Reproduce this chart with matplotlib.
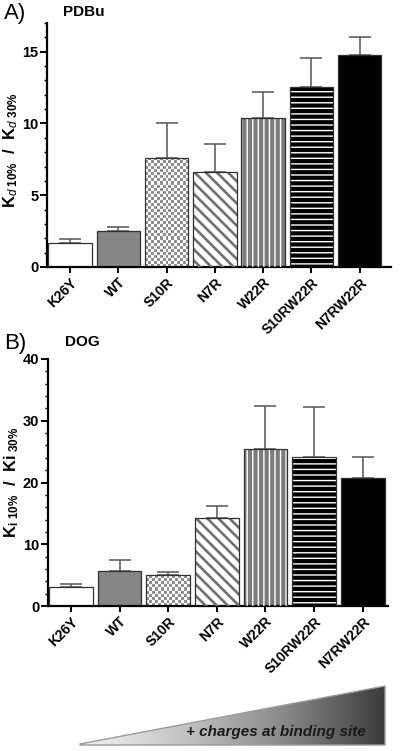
import matplotlib
matplotlib.use('Agg')
import matplotlib.pyplot as plt
import numpy as np
from matplotlib.patches import Polygon

plt.rcParams['font.family'] = ['Liberation Sans', 'DejaVu Sans']
plt.rcParams['mathtext.fontset'] = 'custom'
plt.rcParams['mathtext.rm'] = 'Liberation Sans:bold'
plt.rcParams['mathtext.it'] = 'Liberation Sans:italic'
plt.rcParams['mathtext.bf'] = 'Liberation Sans:bold'

# data
mutants = ['K26Y', 'WT', 'S10R', 'N7R', 'W22R', 'S10RW22R', 'N7RW22R']
pdbu_mean = [1.64, 2.52, 7.62, 6.62, 10.35, 12.55, 14.77]
pdbu_err = [0.28, 0.27, 2.43, 1.97, 1.83, 1.98, 1.28]
dog_mean = [3.13, 5.72, 4.97, 14.3, 25.37, 24.08, 20.73]
dog_err = [0.43, 1.73, 0.59, 1.95, 7.03, 8.22, 3.45]

# style of each bar: face, hatch, hatch colour, hatch width
styles = [
    ('white', None, None, 1.0),
    ('#868686', None, None, 1.0),
    ('white', 'checker', None, 1.0),
    ('white', '\\\\\\', '#707070', 1.9),
    ('#7c7c7c', '|||', 'white', 1.0),
    ('black', '---', 'white', 1.0),
    ('black', None, None, 1.0),
]

fig = plt.figure(figsize=(4, 7.51), dpi=100)


def draw_panel(ax, means, errs, ymax, minor, px_per_unit):
    x = np.arange(len(mutants))
    w = 0.9
    ax.errorbar(x, means, yerr=[np.zeros(len(errs)), errs], fmt='none',
                ecolor='#555555', elinewidth=1.1, capsize=8, capthick=1.1, zorder=1)
    for i, (face, hatch, hcol, hlw) in enumerate(styles):
        ax.bar(x[i], means[i], w, color=face, linewidth=0, zorder=2)
        if hatch == 'checker':
            ny = max(1, int(round(means[i] * px_per_unit / 3.0)))
            nx = 15
            cb = (np.add.outer(np.arange(ny), np.arange(nx)) % 2).astype(float)
            im = ax.imshow(cb, cmap='gray', vmin=-1.3, vmax=1, interpolation='nearest',
                           extent=(x[i] - w / 2, x[i] + w / 2, 0, means[i]),
                           aspect='auto', zorder=2.5, origin='lower')
            clip = ax.bar(x[i], means[i], w, fill=False, linewidth=0, zorder=2.4)[0]
            im.set_clip_path(clip)
        elif hatch:
            plt.rcParams['hatch.linewidth'] = hlw
            hb = ax.bar(x[i], means[i], w, fill=False, edgecolor=hcol, hatch=hatch,
                        linewidth=0, zorder=2.6)[0]
            if hasattr(hb, 'set_hatch_linewidth'):
                hb.set_hatch_linewidth(hlw)
        ax.bar(x[i], means[i], w, fill=False, edgecolor='#303030', linewidth=0.9, zorder=3)
    ax.set_ylim(0, ymax)
    ax.set_yticks(np.arange(0, ymax + 0.01, 10 if ymax > 20 else 5))
    ax.set_yticks(np.arange(0, ymax + 0.01, minor), minor=True)
    ax.set_xticks(x)
    ax.set_xticklabels(mutants, rotation=45, ha='right', rotation_mode='anchor',
                       fontsize=10, fontweight='bold')
    for lab in ax.get_yticklabels():
        lab.set_fontsize(10.5)
        lab.set_fontweight('bold')
    ax.spines['top'].set_visible(False)
    ax.spines['right'].set_visible(False)
    ax.spines['left'].set_linewidth(1.6)
    ax.spines['bottom'].set_linewidth(1.6)
    ax.tick_params(axis='y', which='major', length=5, width=1.4, pad=1)
    ax.tick_params(axis='y', which='minor', length=2.5, width=1.0)
    ax.tick_params(axis='x', length=4, width=1.4, pad=2)


axA = fig.add_axes([0.1175, 0.6445, 0.86, 0.3249])
draw_panel(axA, pdbu_mean, pdbu_err, 17, 1, 14.35)
axA.set_xlim(-0.48, 6.65)
axA.set_ylabel(r'K$_{\mathit{d\ 10\%}}$  /  K$_{\mathit{d\ 30\%}}$', fontsize=12,
               fontweight='bold')

axB = fig.add_axes([0.119, 0.193, 0.851, 0.329])
draw_panel(axB, dog_mean, dog_err, 40, 2, 6.17)
axB.set_xlim(-0.48, 6.52)
axB.set_ylabel(r'K$_{\mathrm{i}}$$_{\mathit{\ 10\%}}$  /  Ki$_{\mathit{\ 30\%}}$', fontsize=12,
               fontweight='bold')
axA.yaxis.set_label_coords(-0.078, 0.48)
axB.yaxis.set_label_coords(-0.078, 0.5)

fig.text(4 / 400, 1 - 13 / 751, 'A)', fontsize=16, va='center', ha='left')
fig.text(63 / 400, 1 - 12 / 751, 'PDBu', fontsize=11, fontweight='bold', va='center', ha='left')
fig.text(4 / 400, 1 - 343 / 751, 'B)', fontsize=16, va='center', ha='left')
fig.text(65 / 400, 1 - 342 / 751, 'DOG', fontsize=11, fontweight='bold', va='center', ha='left')

# gradient wedge at the bottom
axC = fig.add_axes([0, 0, 1, 75 / 751])
axC.set_xlim(0, 400)
axC.set_ylim(751, 676)
axC.axis('off')
grad = np.linspace(0, 1, 256)[None, :]
gim = axC.imshow(grad, cmap=matplotlib.colors.LinearSegmentedColormap.from_list(
    'w', ['#f4f4f4', '#c4c4c4', '#8a8a8a', '#3c3c3c']),
    extent=(80, 385, 745, 686), aspect='auto', interpolation='bilinear')
tri = Polygon([[80, 744], [385, 686], [385, 745], [80, 745]], closed=True,
              facecolor='none', edgecolor='#9a9a9a', linewidth=1.0)
axC.add_patch(tri)
gim.set_clip_path(tri)
axC.text(276, 732, '+ charges at binding site', fontsize=11, fontweight='bold',
         fontstyle='italic', ha='center', va='center', color='#1a1a1a')

fig.savefig('out.png', dpi=100)
